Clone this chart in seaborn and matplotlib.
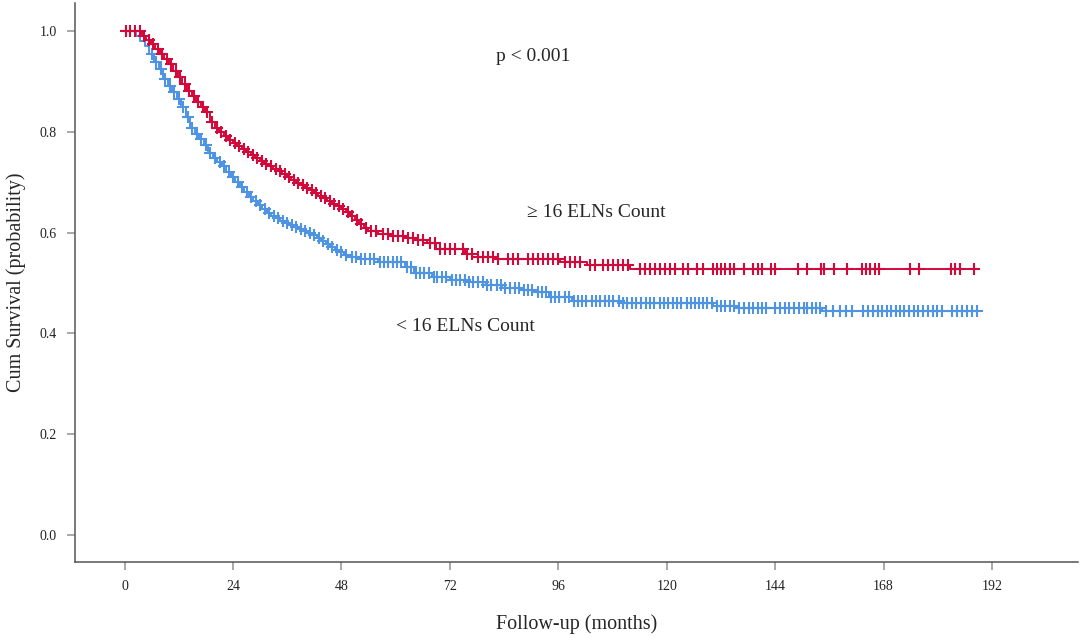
import numpy as np
import pandas as pd
import matplotlib
matplotlib.use("Agg")
import matplotlib.pyplot as plt
import seaborn as sns

# --- Kaplan-Meier step curves (months, survival) ---
high_time = [0, 3.8, 4.8, 5.8, 6.8, 7.8, 8.8, 9.8, 10.8, 11.8, 12.8, 13.8, 14.8,
             15.8, 16.8, 17.8, 18.8, 19.9, 20.9, 21.9, 22.9, 23.9, 24.9, 25.9,
             26.9, 27.9, 28.9, 29.9, 30.9, 31.9, 32.9, 33.9, 34.9, 35.9, 36.9,
             37.9, 38.9, 39.9, 40.9, 41.9, 42.9, 43.9, 44.9, 45.9, 46.9, 47.9,
             48.9, 49.9, 50.9, 51.9, 52.9, 53.9, 56.0, 59.0, 62.0, 64.5, 67.0,
             69.0, 75.3, 77.0, 82.6, 96.4, 102.3, 111.9, 188.0]
high_surv = [1.0, 0.99, 0.982, 0.974, 0.965, 0.955, 0.945, 0.935, 0.922, 0.91,
             0.895, 0.882, 0.872, 0.86, 0.85, 0.84, 0.82, 0.808, 0.80, 0.792,
             0.785, 0.778, 0.772, 0.766, 0.760, 0.754, 0.748, 0.742, 0.737,
             0.732, 0.727, 0.722, 0.716, 0.711, 0.705, 0.699, 0.694, 0.689,
             0.684, 0.679, 0.673, 0.668, 0.662, 0.657, 0.652, 0.647, 0.641,
             0.634, 0.626, 0.617, 0.609, 0.603, 0.598, 0.594, 0.590, 0.585,
             0.579, 0.567, 0.557, 0.551, 0.547, 0.541, 0.535, 0.527, 0.527]

low_time = [0, 2.5, 3.5, 4.5, 5.5, 6.5, 7.5, 8.5, 9.5, 10.5, 11.5, 12.5, 13.5,
            14.5, 15.5, 16.5, 17.5, 18.5, 19.5, 20.5, 21.5, 22.5, 23.5, 24.5,
            25.5, 26.5, 27.5, 28.5, 29.5, 30.5, 31.5, 32.5, 33.5, 34.5, 35.5,
            36.5, 37.5, 38.5, 39.5, 40.5, 41.5, 42.5, 43.5, 44.5, 45.5, 46.5,
            47.5, 48.5, 49.5, 52.0, 56.0, 62.0, 64.0, 68.0, 72.0, 76.0, 80.0,
            83.5, 88.0, 91.0, 94.0, 99.0, 110.0, 130.3, 135.8, 154.4, 189.8]
low_surv = [1.0, 0.99, 0.98, 0.97, 0.955, 0.94, 0.925, 0.905, 0.892, 0.879,
            0.866, 0.85, 0.83, 0.808, 0.797, 0.786, 0.774, 0.758, 0.749, 0.741,
            0.732, 0.72, 0.71, 0.70, 0.69, 0.68, 0.671, 0.663, 0.655, 0.647,
            0.64, 0.634, 0.629, 0.624, 0.62, 0.616, 0.612, 0.608, 0.604, 0.6,
            0.595, 0.589, 0.583, 0.577, 0.571, 0.566, 0.561, 0.556, 0.552,
            0.547, 0.541, 0.531, 0.52, 0.511, 0.506, 0.501, 0.495, 0.49, 0.486,
            0.482, 0.472, 0.465, 0.46, 0.455, 0.45, 0.444, 0.444]

# --- censored observations (months) ---
high_cens = [0.2, 1.2, 2.3, 3.3, 4.3, 5.3, 6.3, 7.3, 8.3, 9.3, 10.3, 11.3, 12.3,
             13.3, 14.3, 15.3, 16.3, 17.3, 18.3, 19.4, 20.4, 21.4, 22.4, 23.4,
             24.4, 25.4, 26.4, 27.4, 28.4, 29.4, 30.4, 31.4, 32.4, 33.4, 34.4,
             35.4, 36.4, 37.4, 38.4, 39.4, 40.4, 41.4, 42.4, 43.4, 44.4, 45.4,
             46.4, 47.4, 48.4, 49.4, 50.4, 51.4, 52.4, 53.4, 54.6, 55.7,
             57.2, 58.3, 59.4, 60.5, 61.6, 62.7, 63.8, 64.9, 66.0, 67.6, 68.7,
             69.8, 70.9, 72.0, 73.1, 74.9, 75.8, 76.9, 78.2, 79.3, 80.4, 81.5,
             82.6, 84.8, 86.0, 87.1, 89.3, 90.4, 91.5, 92.6, 93.7, 94.8, 95.9,
             97.5, 98.6, 99.7, 100.8, 103.0, 104.1, 105.9, 107.0, 108.1, 109.2,
             110.3, 111.4, 114.1, 115.2, 116.3, 117.4, 118.5, 119.6, 120.7,
             121.8, 123.6, 124.7, 126.7, 128.1, 130.3, 131.2, 132.1, 133.0,
             133.9, 134.8, 137.0, 139.1, 140.1, 141.1, 143.1, 144.0, 149.0,
             151.1, 154.2, 154.9, 157.1, 159.9, 163.2, 164.1, 165.0, 166.0,
             167.0, 173.9, 175.9, 182.9, 183.9, 184.9, 188.0]
low_cens = [6.0, 7.0, 8.0, 9.0, 10.0, 11.0, 12.0, 13.0, 14.0, 15.0, 16.0, 17.0,
            18.0, 19.0, 20.0, 21.0, 22.0, 23.0, 24.0, 25.0, 26.0, 27.0, 28.0,
            29.0, 30.0, 31.0, 32.0, 33.0, 34.0, 35.0, 36.0, 37.0, 38.0, 39.0,
            40.0, 41.0, 42.0, 43.0, 44.0, 45.0, 46.0, 47.0, 48.0, 49.0, 50.3,
            51.2, 52.4, 53.3, 54.3, 55.2, 56.5, 57.4, 58.4, 59.3, 60.3, 61.2,
            62.5, 63.3, 64.4, 65.3, 66.2, 67.3, 68.4, 69.2, 70.3, 71.2, 72.4,
            73.3, 74.2, 75.4, 76.3, 77.2, 78.3, 79.4, 80.3, 81.2, 82.4, 83.2,
            84.3, 85.4, 86.3, 87.2, 88.4, 89.3, 90.2, 91.4, 92.3, 93.2, 94.4,
            95.3, 96.2, 97.4, 98.3, 99.5, 100.4, 101.3, 102.2, 103.4, 104.3,
            105.2, 106.4, 107.3, 108.2, 109.4, 110.3, 111.2, 112.4, 113.3,
            114.2, 115.4, 116.3, 117.2, 118.4, 119.3, 120.2, 121.4, 122.3,
            123.2, 124.4, 125.3, 126.2, 127.2, 128.0, 129.0, 130.0, 131.1,
            132.0, 132.9, 133.9, 134.8, 136.1, 137.2, 138.1, 139.1, 140.1,
            141.1, 142.0, 144.0, 145.1, 146.2, 147.1, 148.2, 149.2, 150.3,
            151.1, 152.1, 153.1, 154.0, 155.3, 156.8, 158.4, 159.7, 161.0,
            163.5, 164.6, 165.7, 166.7, 167.7, 168.7, 169.7, 170.7, 171.7,
            172.6, 173.7, 174.7, 175.7, 176.8, 177.8, 178.9, 179.9, 180.9,
            183.1, 184.2, 185.3, 186.4, 187.5, 188.6]

groups = ["< 16 ELNs Count", "\u2265 16 ELNs Count"]
palette = {"< 16 ELNs Count": "#4f93e3", "\u2265 16 ELNs Count": "#d20a3b"}


def step_value(t_knots, s_knots, t):
    idx = np.searchsorted(t_knots, t, side="right") - 1
    return np.asarray(s_knots)[idx]


curves = pd.concat([
    pd.DataFrame({"time": low_time, "surv": low_surv, "group": groups[0]}),
    pd.DataFrame({"time": high_time, "surv": high_surv, "group": groups[1]}),
])
cens = pd.concat([
    pd.DataFrame({"time": low_cens,
                  "surv": step_value(low_time, low_surv, low_cens),
                  "group": groups[0]}),
    pd.DataFrame({"time": high_cens,
                  "surv": step_value(high_time, high_surv, high_cens),
                  "group": groups[1]}),
])

sns.set_style("ticks")
plt.rcParams["font.family"] = ["Liberation Serif", "DejaVu Serif"]

fig = plt.figure(figsize=(10.8, 6.37), dpi=100)
ax = fig.add_axes([0.0694, 0.1177, 0.9286, 0.8773])

sns.lineplot(data=curves, x="time", y="surv", hue="group", palette=palette,
             hue_order=groups, drawstyle="steps-post", estimator=None,
             sort=False, linewidth=1.4, legend=False, ax=ax)
for g in groups:
    sub = cens[cens["group"] == g]
    ax.plot(sub["time"], sub["surv"], linestyle="none", marker="+",
            markersize=8.5, markeredgewidth=1.5, color=palette[g])

ax.set_xlim(-11.0, 211)
ax.set_ylim(-0.0545, 1.056)
ax.set_xticks([0, 24, 48, 72, 96, 120, 144, 168, 192])
ax.set_yticks([0.0, 0.2, 0.4, 0.6, 0.8, 1.0])
ax.set_yticklabels(["0.0", "0.2", "0.4", "0.6", "0.8", "1.0"])
ax.tick_params(axis="both", length=6, width=1.2, color="#999999",
               labelsize=10, labelcolor="#222222", pad=7)

for side in ["top", "right"]:
    ax.spines[side].set_visible(False)
for side in ["left", "bottom"]:
    ax.spines[side].set_color("#555555")
    ax.spines[side].set_linewidth(1.1)

ax.set_xlabel("Follow-up (months)", fontsize=14.5, labelpad=15)
ax.set_ylabel("Cum Survival (probability)", fontsize=14.5, labelpad=10)

ax.text(90.5, 0.951, "p < 0.001", fontsize=14, ha="center", va="center")
ax.text(104.5, 0.641, "\u2265 16 ELNs Count", fontsize=14, ha="center",
        va="center")
ax.text(75.5, 0.414, "< 16 ELNs Count", fontsize=14, ha="center",
        va="center")

fig.savefig("out.png", dpi=100)
